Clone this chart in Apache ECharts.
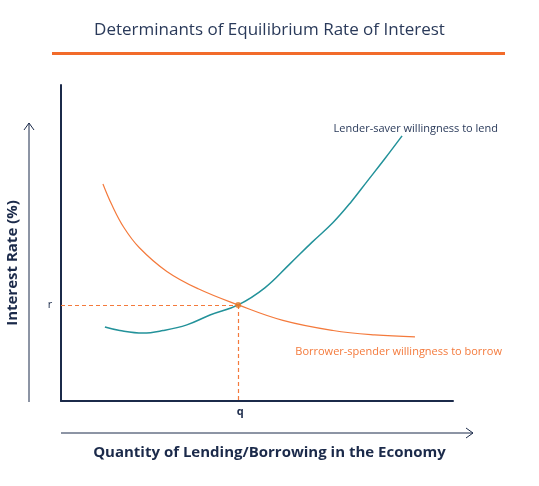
<!DOCTYPE html><html><head><meta charset="utf-8">
<script src="https://cdn.jsdelivr.net/npm/echarts@6/dist/echarts.min.js"></script>
<style>html,body{margin:0;padding:0;background:#fff}#c{width:539px;height:486px}</style></head><body><div id="c"></div>
<script>
const lenderCurve = [[11.2,23.4],[15,22.3],[20.9,21.5],[26,22.3],[32.1,24.1],[38,27.2],[45.2,30.4],[52,35.8],[58.4,43.4],[64,50.2],[69.4,56.5],[74,63],[78.1,69.5],[82.5,76.5],[87,83.9]];
const borrowerCurve = [[10.7,68.7],[13,62],[16,55],[20,48.5],[27,41],[35,35.5],[45.2,30.4],[56.6,25.5],[69.4,22.3],[80,20.9],[90.3,20.3]];
const equilibrium = [45.2,30.4];
const tickLabels = {x:'q', y:'r'};
const navy='#1b2a4a', teal='#23929a', orange='#f47a3c';
const F='"Open Sans", sans-serif';
const chart = echarts.init(document.getElementById('c'));
const opt = {
  animation:false,
  grid:{left:61,right:86,top:85,bottom:85},
  xAxis:{type:'value',min:0,max:100,axisLine:{lineStyle:{color:navy,width:2}},axisTick:{show:false},splitLine:{show:false},axisLabel:{show:false}},
  yAxis:{type:'value',min:0,max:100,axisLine:{show:true,lineStyle:{color:navy,width:2}},axisTick:{show:false},splitLine:{show:false},axisLabel:{show:false}},
  series:[
    {type:'line',data:lenderCurve,smooth:0.4,symbol:'none',lineStyle:{color:teal,width:1.5},z:3},
    {type:'line',data:borrowerCurve,smooth:0.4,symbol:'none',lineStyle:{color:orange,width:1.2},z:3,
     markLine:{silent:true,symbol:'none',label:{show:false},lineStyle:{color:orange,type:[4,3],width:1.2,opacity:1},
       emphasis:{disabled:true},
       data:[[{coord:[0,equilibrium[1]]},{coord:equilibrium}],[{coord:equilibrium},{coord:[equilibrium[0],0]}]]}},
    {type:'scatter',data:[equilibrium],symbolSize:6,itemStyle:{color:'#e07a2a'},z:5}
  ]
};
chart.setOption(opt);
const px = chart.convertToPixel({gridIndex:0}, equilibrium);
chart.setOption({graphic:[
    {type:'text',left:'center',top:22,style:{text:'Determinants of Equilibrium Rate of Interest',font:'17px '+F,fill:'#2a3a5a'}},
    {type:'rect',shape:{x:52,y:52,width:453,height:3},style:{fill:'#f26b2a'}},
    {type:'text',x:498,y:129,style:{text:'Lender-saver willingness to lend',font:'11px '+F,fill:'#2a3a5a',align:'right',verticalAlign:'middle'}},
    {type:'text',x:502,y:352,style:{text:'Borrower-spender willingness to borrow',font:'11px '+F,fill:orange,align:'right',verticalAlign:'middle'}},
    {type:'line',shape:{x1:29,y1:402,x2:29,y2:123},style:{stroke:navy,lineWidth:1}},
    {type:'polyline',shape:{points:[[24,130],[29,123],[34,130]]},style:{stroke:navy,lineWidth:1,fill:null}},
    {type:'line',shape:{x1:61,y1:433,x2:473,y2:433},style:{stroke:navy,lineWidth:1}},
    {type:'polyline',shape:{points:[[466,428],[473,433],[466,438]]},style:{stroke:navy,lineWidth:1,fill:null}},
    {type:'text',x:13,y:263,rotation:Math.PI/2,style:{text:'Interest Rate (%)',font:'bold 15px '+F,fill:navy,align:'center',verticalAlign:'middle'}},
    {type:'text',left:'center',top:445,style:{text:'Quantity of Lending/Borrowing in the Economy',font:'bold 15px '+F,fill:navy}},
    {type:'text',x:50,y:px[1],style:{text:tickLabels.y,font:'11px '+F,fill:navy,align:'center',verticalAlign:'middle'}},
    {type:'text',x:px[0]+2,y:412,style:{text:tickLabels.x,font:'bold 11px '+F,fill:navy,align:'center',verticalAlign:'middle'}}
]});
</script></body></html>
